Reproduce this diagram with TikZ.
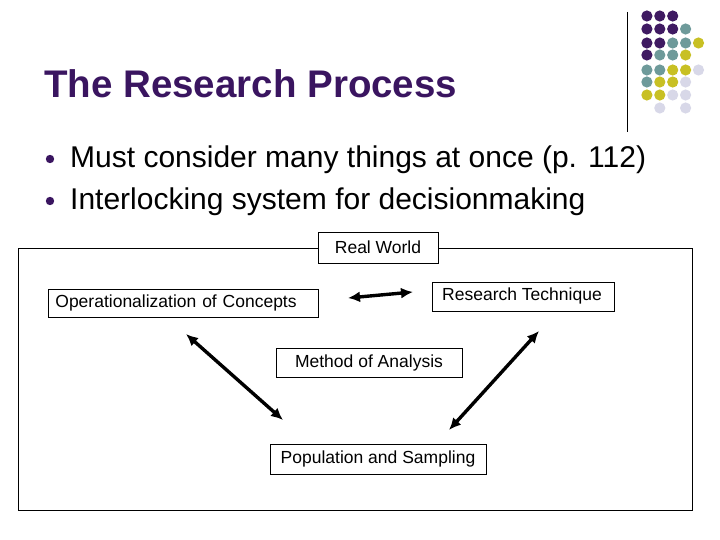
\documentclass[tikz,border=0pt]{standalone}
\usepackage{fontspec}
\setmainfont{Liberation Sans}
\usetikzlibrary{arrows.meta,positioning}
\definecolor{dotP}{HTML}{3F1A62}
\definecolor{dotT}{HTML}{6E9A9A}
\definecolor{dotY}{HTML}{C8C024}
\definecolor{dotL}{HTML}{D8D8E8}
\definecolor{titleP}{HTML}{3A1560}
\tikzset{
  box/.style={draw=black,fill=white,line width=0.8pt,inner sep=0pt,font=\fontsize{17.5}{20}\selectfont},
  link/.style={{Latex[length=12pt,width=11pt]}-{Latex[length=12pt,width=11pt]},line width=3.4pt}
}
\begin{document}
\begin{tikzpicture}[x=1pt,y=-1pt]
\useasboundingbox (0,0) rectangle (720,540);
% corner dots
\foreach \row/\cols in {16/{1/P,2/P,3/P},29/{1/P,2/P,3/P,4/T},43/{1/P,2/P,3/T,4/T,5/Y},55/{1/P,2/T,3/T,4/Y},
  70/{1/T,2/T,3/Y,4/Y,5/L},82/{1/T,2/Y,3/Y,4/L},95/{1/Y,2/Y,3/L,4/L},108/{2/L,4/L}}
  \foreach \c/\k in \cols {
    \fill[fill=dot\k] (634+12.9*\c,\row) circle (5.6);
  }
\draw[line width=0.9pt] (627,12) -- (627,132);
% title and bullets
\node[anchor=base west,inner sep=0pt,text=titleP,font=\bfseries\fontsize{38.5}{44}\selectfont] (title) at (44,98) {The Research Process};
\foreach \y/\txt in {168/Must consider many things at once (p. 112),210/Interlocking system for decisionmaking}{
  \fill[titleP] (50,\y-9) circle (4.2);
  \node[anchor=base west,inner sep=0pt,font=\fontsize{30}{34}\selectfont] at (70,\y) {\txt};
}
% frame and boxes
\draw[line width=0.8pt] (18,248) rectangle (692,510);
\node[box,minimum width=120pt,minimum height=31pt] (world) at (378,247.5) {Real World};
\node[box,minimum width=270pt,minimum height=28pt,anchor=west,text width=256pt,align=left,inner xsep=7pt] (oper) at (48,303) {Operationalization of Concepts};
\node[box,minimum width=182pt,minimum height=29pt,anchor=north west] (tech) at (432,282) {};
\node[font=\fontsize{17.5}{20}\selectfont,inner sep=0pt] at (522,296) {Research Technique};
\node[box,minimum width=186pt,minimum height=29pt] (method) at (369,362.5) {Method of Analysis};
\node[box,minimum width=216pt,minimum height=30pt] (pop) at (378,459) {Population and Sampling};
% arrows
\coordinate (a1) at (348,298); \coordinate (b1) at (413,292);
\coordinate (a2) at (186,334); \coordinate (b2) at (283,420);
\coordinate (a3) at (539,331); \coordinate (b3) at (449,430);
\draw[link] (a1) -- (b1);
\draw[link] (a2) -- (b2);
\draw[link] (a3) -- (b3);
\end{tikzpicture}
\end{document}
